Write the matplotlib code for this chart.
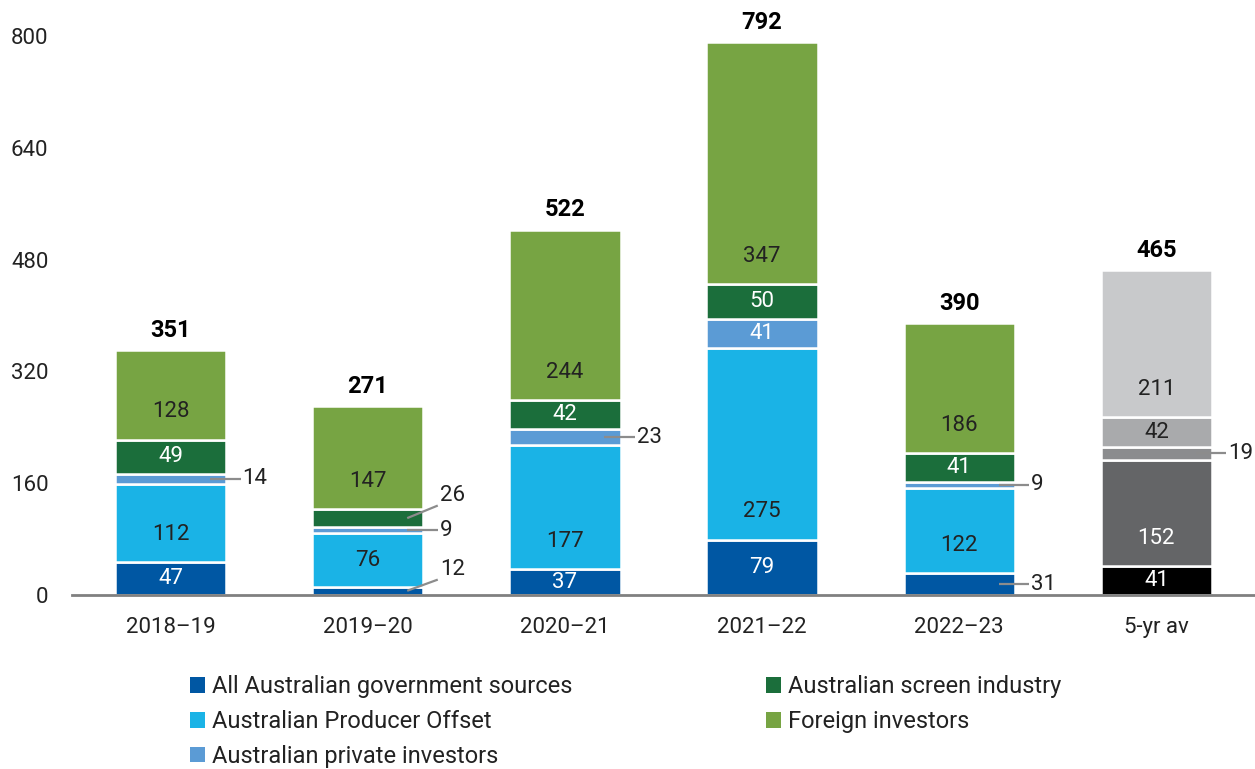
import matplotlib
matplotlib.use("Agg")
import matplotlib.pyplot as plt
from matplotlib.patches import Patch

plt.rcParams['font.family'] = ['Roboto', 'DejaVu Sans']

# Financing sources per year ($m)
categories = ["2018–19", "2019–20", "2020–21", "2021–22", "2022–23", "5-yr av"]
series_names = [
    "All Australian government sources",
    "Australian Producer Offset",
    "Australian private investors",
    "Australian screen industry",
    "Foreign investors",
]
gov = [47, 12, 37, 79, 31, 41]
offset = [112, 76, 177, 275, 122, 152]
private = [14, 9, 23, 41, 9, 19]
industry = [49, 26, 42, 50, 41, 42]
foreign = [128, 147, 244, 347, 186, 211]
totals = [351, 271, 522, 792, 390, 465]
yticks = [0, 160, 320, 480, 640, 800]

series = [gov, offset, private, industry, foreign]
colors = ["#0057a3", "#1ab3e6", "#5b9bd5", "#1b6e3b", "#77a443"]
avg_colors = ["#000000", "#646567", "#8b8c8e", "#a9aaac", "#c8c9cb"]
text_colors = ["white", "#222222", "white", "white", "#222222"]
avg_text_colors = ["white", "white", "white", "#222222", "#222222"]

fig = plt.figure(figsize=(12.55, 7.69), dpi=100)
ax = fig.add_axes([0.0574, 0.2263, 0.9426, 0.7269])

width = 0.565
x = list(range(len(categories)))
bottoms = [0] * len(categories)
small_threshold = 35

# (category index, series index) -> leader end y-offset in data units
leader_rise = {(1, 3): 18, (1, 0): 16}

for si, vals in enumerate(series):
    for ci, v in enumerate(vals):
        is_avg = ci == len(categories) - 1
        col = avg_colors[si] if is_avg else colors[si]
        tcol = avg_text_colors[si] if is_avg else text_colors[si]
        b = bottoms[ci]
        ax.bar(ci, v, width=width, bottom=b, color=col,
               edgecolor="white", linewidth=1.8, zorder=2)
        if v >= small_threshold:
            ly = min(b + v / 2, b + 40)
            ax.text(ci, ly, f"{v}", ha="center", va="center",
                    fontsize=16, color=tcol, zorder=3)
        else:
            cy = b + v / 2
            rise = leader_rise.get((ci, si), 0)
            x0 = ci + 0.2
            x1 = ci + 0.355
            ax.plot([x0, x1], [cy, cy + rise], color="#8c8c8c",
                    lw=1.6, zorder=4, solid_capstyle="butt")
            ax.text(x1 + 0.01, cy + rise + (14 if rise else 0), f"{v}",
                    ha="left", va="center", fontsize=16, color="#222222")
        bottoms[ci] = b + v

for ci, t in enumerate(totals):
    ax.text(ci, bottoms[ci] + 28, f"{t}", ha="center", va="center",
            fontsize=17, fontweight="bold", color="black")

ax.set_xlim(-0.5, 5.5)
ax.set_ylim(0, 800)
ax.set_yticks(yticks)
ax.set_yticklabels([str(t) for t in yticks], fontsize=16, color="#222222")
ax.set_xticks(x)
ax.set_xticklabels(categories, fontsize=16, color="#222222")
ax.tick_params(axis="y", length=0, pad=17)
ax.tick_params(axis="x", length=0, pad=16)
for s in ["top", "right", "left"]:
    ax.spines[s].set_visible(False)
ax.spines["bottom"].set_color("#808080")
ax.spines["bottom"].set_linewidth(2)
ax.spines["bottom"].set_zorder(5)

handles = [Patch(facecolor=c, edgecolor="none") for c in colors]
fig.legend(handles, series_names, loc="upper left",
           bbox_to_anchor=(0.151, 0.122), ncol=2, frameon=False,
           fontsize=17, handlelength=0.65, handleheight=0.65,
           handletextpad=0.3, columnspacing=8.2, labelspacing=0.5,
           borderaxespad=0, borderpad=0, labelcolor="#222222")

fig.savefig("out.png", dpi=100)
